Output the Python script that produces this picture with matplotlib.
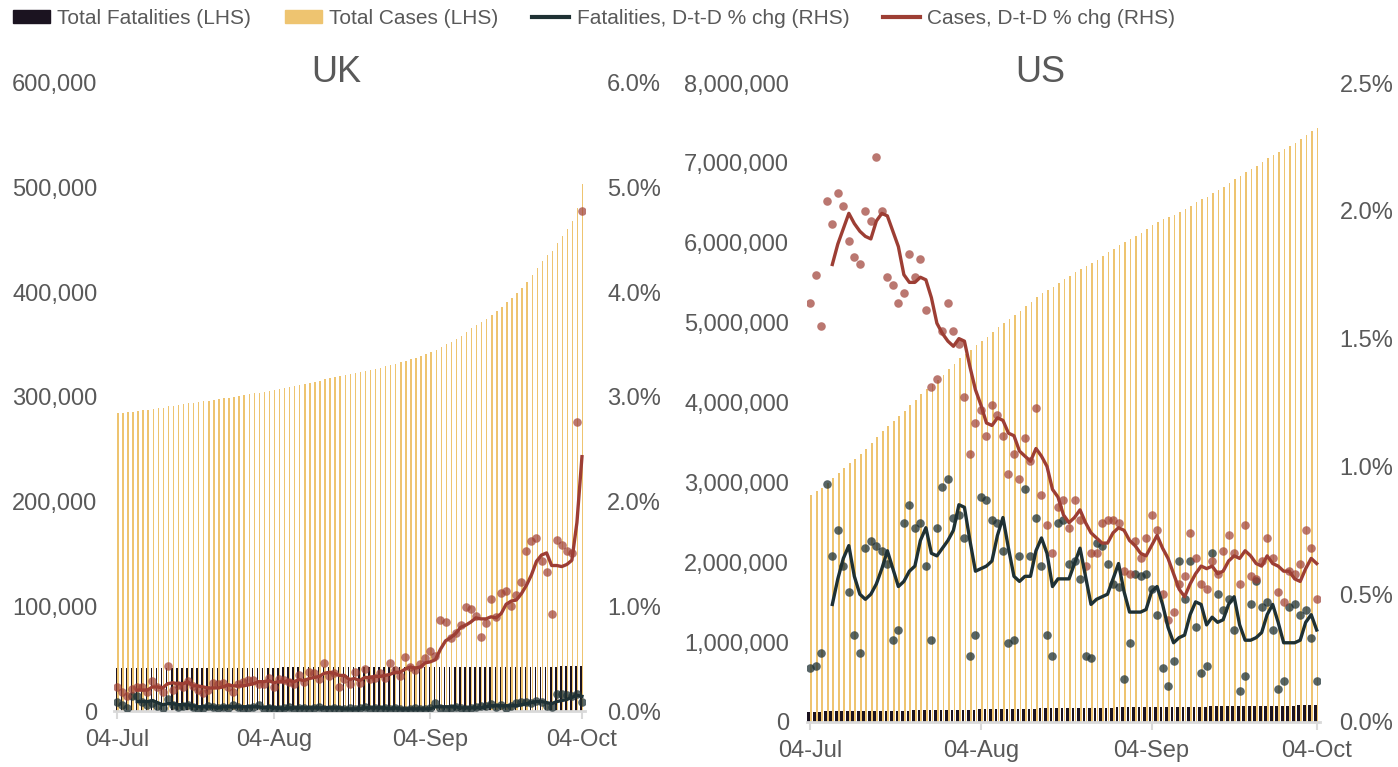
import numpy as np
import pandas as pd
import matplotlib
matplotlib.use("Agg")
import matplotlib.pyplot as plt
import matplotlib.dates as mdates
from matplotlib.ticker import FuncFormatter
from matplotlib.patches import Patch
from matplotlib.lines import Line2D

plt.rcParams['font.family'] = ['Liberation Sans', 'DejaVu Sans']

# ---- data (daily, 04-Jul-2020 .. 04-Oct-2020) ----
dates = pd.date_range("2020-07-04", "2020-10-04", freq="D")
tick_dates = pd.to_datetime(["2020-07-04", "2020-08-04", "2020-09-04", "2020-10-04"])
tick_labels = ["04-Jul", "04-Aug", "04-Sep", "04-Oct"]
nan = np.nan

# UK totals, thousands
uk_total_cases = [
    284.6, 285.1, 285.5, 286.1, 286.8, 287.4, 287.9, 288.8, 289.4, 289.9,
    291.2, 291.8, 292.5, 293.2, 294.0, 294.7, 295.3, 295.8, 296.4, 297.2,
    298.0, 298.8, 299.5, 300.0, 300.8, 301.6, 302.5, 303.4, 304.2, 305.0,
    306.0, 306.7, 307.6, 308.6, 309.4, 310.2, 311.3, 312.1, 313.3, 314.4,
    315.4, 316.8, 317.9, 319.0, 319.7, 320.7, 321.6, 322.7, 323.6, 324.9,
    325.9, 327.0, 328.1, 329.2, 330.7, 332.0, 333.1, 334.8, 336.2, 337.5,
    339.0, 340.8, 342.7, 344.5, 347.5, 350.5, 352.9, 355.6, 358.5, 362.0,
    365.5, 368.9, 371.5, 374.6, 378.6, 382.0, 386.4, 390.8, 394.7, 399.1,
    404.0, 410.2, 416.9, 423.7, 429.8, 435.5, 439.6, 446.7, 453.8, 460.8,
    467.7, 480.6, 503.6]
uk_total_deaths = [
    40.90, 40.92, 40.94, 40.99, 41.05, 41.09, 41.11, 41.15, 41.17, 41.18,
    41.22, 41.25, 41.26, 41.28, 41.31, 41.32, 41.33, 41.34, 41.36, 41.38,
    41.39, 41.41, 41.42, 41.45, 41.46, 41.47, 41.48, 41.50, 41.52, 41.53,
    41.54, 41.55, 41.56, 41.57, 41.59, 41.60, 41.61, 41.62, 41.63, 41.64,
    41.66, 41.67, 41.68, 41.69, 41.70, 41.71, 41.72, 41.73, 41.74, 41.76,
    41.77, 41.78, 41.79, 41.80, 41.81, 41.82, 41.83, 41.83, 41.84, 41.85,
    41.86, 41.87, 41.88, 41.91, 41.92, 41.93, 41.94, 41.96, 41.97, 41.98,
    41.99, 42.01, 42.03, 42.05, 42.08, 42.10, 42.12, 42.14, 42.16, 42.19,
    42.23, 42.27, 42.30, 42.34, 42.38, 42.40, 42.42, 42.49, 42.56, 42.62,
    42.68, 42.75, 42.79]
# UK day-to-day % changes (dots) and their smoothed line
uk_case_pct = [
    0.23, 0.18, 0.14, 0.21, 0.23, 0.23, 0.18, 0.29, 0.23, 0.18,
    0.43, 0.20, 0.25, 0.23, 0.29, 0.24, 0.20, 0.17, 0.20, 0.27,
    0.26, 0.27, 0.23, 0.18, 0.26, 0.28, 0.30, 0.30, 0.26, 0.26,
    0.32, 0.23, 0.31, 0.30, 0.28, 0.26, 0.34, 0.28, 0.37, 0.36,
    0.31, 0.46, 0.33, 0.36, 0.23, 0.31, 0.26, 0.37, 0.27, 0.40,
    0.31, 0.32, 0.36, 0.32, 0.46, 0.39, 0.33, 0.52, 0.42, 0.39,
    0.45, 0.51, 0.57, 0.53, 0.87, 0.85, 0.70, 0.75, 0.82, 0.99,
    0.97, 0.91, 0.71, 0.84, 1.07, 0.90, 1.13, 1.15, 1.00, 1.11,
    1.23, 1.53, 1.62, 1.65, 1.43, 1.33, 0.93, 1.63, 1.59, 1.53,
    1.51, 2.76, 4.78]
uk_case_line = [
    nan, nan, nan, nan, 0.20, 0.20, 0.20, 0.23, 0.23, 0.22,
    0.26, 0.27, 0.26, 0.26, 0.28, 0.24, 0.24, 0.23, 0.22, 0.22,
    0.22, 0.23, 0.25, 0.24, 0.24, 0.24, 0.25, 0.26, 0.28, 0.28,
    0.29, 0.27, 0.28, 0.28, 0.29, 0.28, 0.30, 0.29, 0.31, 0.32,
    0.33, 0.36, 0.37, 0.36, 0.34, 0.34, 0.30, 0.31, 0.29, 0.32,
    0.32, 0.33, 0.33, 0.34, 0.35, 0.37, 0.37, 0.40, 0.42, 0.41,
    0.42, 0.46, 0.47, 0.49, 0.59, 0.67, 0.70, 0.74, 0.80, 0.82,
    0.85, 0.89, 0.88, 0.88, 0.90, 0.89, 0.93, 1.02, 1.05, 1.06,
    1.12, 1.20, 1.30, 1.43, 1.49, 1.51, 1.39, 1.39, 1.38, 1.40,
    1.44, 1.80, 2.43]
uk_fat_pct = [
    0.09, 0.06, 0.03, 0.14, 0.14, 0.09, 0.06, 0.08, 0.05, 0.03,
    0.11, 0.06, 0.04, 0.05, 0.06, 0.04, 0.02, 0.03, 0.05, 0.04,
    0.03, 0.04, 0.03, 0.06, 0.04, 0.02, 0.03, 0.04, 0.06, 0.02,
    0.03, 0.02, 0.02, 0.03, 0.04, 0.02, 0.03, 0.03, 0.02, 0.03,
    0.04, 0.02, 0.02, 0.03, 0.02, 0.02, 0.03, 0.02, 0.03, 0.04,
    0.02, 0.03, 0.02, 0.03, 0.02, 0.03, 0.02, 0.01, 0.02, 0.03,
    0.02, 0.02, 0.03, 0.08, 0.03, 0.02, 0.03, 0.04, 0.03, 0.02,
    0.03, 0.04, 0.05, 0.05, 0.07, 0.04, 0.06, 0.03, 0.05, 0.08,
    0.09, 0.09, 0.08, 0.10, 0.09, 0.05, 0.04, 0.16, 0.16, 0.15,
    0.14, 0.16, 0.09]
uk_fat_line = [
    nan, nan, nan, nan, 0.09, 0.09, 0.09, 0.10, 0.08, 0.06,
    0.07, 0.07, 0.06, 0.06, 0.06, 0.05, 0.04, 0.04, 0.04, 0.04,
    0.03, 0.04, 0.04, 0.04, 0.04, 0.04, 0.04, 0.04, 0.04, 0.03,
    0.04, 0.03, 0.03, 0.02, 0.03, 0.03, 0.03, 0.03, 0.03, 0.03,
    0.03, 0.03, 0.03, 0.03, 0.03, 0.02, 0.02, 0.02, 0.02, 0.03,
    0.03, 0.03, 0.03, 0.03, 0.02, 0.03, 0.02, 0.02, 0.02, 0.02,
    0.02, 0.02, 0.02, 0.04, 0.04, 0.04, 0.04, 0.04, 0.03, 0.03,
    0.03, 0.03, 0.03, 0.04, 0.05, 0.05, 0.05, 0.05, 0.05, 0.05,
    0.06, 0.07, 0.08, 0.09, 0.09, 0.08, 0.07, 0.09, 0.10, 0.11,
    0.13, 0.15, 0.14]

# US totals, thousands
us_total_cases = [
    2840.0, 2889.7, 2934.5, 2994.4, 3052.8, 3116.0, 3178.9, 3238.7, 3297.6, 3356.6,
    3423.7, 3490.8, 3567.9, 3639.3, 3702.6, 3765.9, 3827.7, 3892.0, 3963.2, 4032.2,
    4105.2, 4171.3, 4225.9, 4282.5, 4348.0, 4419.3, 4486.9, 4553.3, 4611.1, 4659.5,
    4714.0, 4771.5, 4824.9, 4884.7, 4943.3, 4998.7, 5047.2, 5100.2, 5148.7, 5205.9,
    5259.0, 5323.7, 5371.1, 5412.5, 5448.2, 5494.0, 5541.8, 5583.9, 5632.5, 5677.0,
    5711.6, 5749.3, 5787.2, 5832.3, 5878.4, 5924.8, 5971.0, 6006.2, 6041.0, 6083.9,
    6122.8, 6166.9, 6216.9, 6263.5, 6294.8, 6320.0, 6347.2, 6381.5, 6417.9, 6465.4,
    6506.8, 6541.9, 6575.9, 6617.3, 6655.7, 6700.3, 6749.2, 6793.7, 6830.4, 6883.0,
    6922.2, 6961.0, 7004.9, 7055.3, 7100.5, 7136.7, 7170.2, 7212.5, 7254.3, 7299.3,
    7354.0, 7404.0, 7439.5]
us_total_deaths = [
    129.9, 130.2, 130.5, 131.7, 132.6, 133.6, 134.4, 135.1, 135.5, 135.9,
    136.8, 137.8, 138.7, 139.7, 140.5, 141.0, 141.5, 142.6, 143.8, 144.9,
    146.0, 146.9, 147.4, 148.5, 149.9, 151.3, 152.5, 153.7, 154.8, 155.2,
    155.8, 157.1, 158.5, 159.8, 161.0, 162.1, 162.6, 163.1, 164.2, 165.7,
    166.7, 168.1, 169.1, 169.7, 170.1, 171.4, 172.8, 173.8, 174.9, 175.9,
    176.4, 176.8, 178.0, 179.3, 180.4, 181.3, 182.3, 182.6, 183.2, 184.2,
    185.3, 186.4, 187.3, 188.1, 188.5, 188.8, 189.2, 190.4, 191.3, 192.5,
    193.2, 193.6, 194.0, 195.3, 196.3, 197.1, 198.1, 198.8, 199.0, 199.4,
    200.3, 201.4, 202.3, 203.3, 204.0, 204.3, 204.6, 205.5, 206.5, 207.3,
    208.2, 208.9, 209.3]
us_case_pct = [
    1.64, 1.75, 1.55, 2.04, 1.95, 2.07, 2.02, 1.88, 1.82, 1.79,
    2.00, 1.96, 2.21, 2.00, 1.74, 1.71, 1.64, 1.68, 1.83, 1.74,
    1.81, 1.61, 1.31, 1.34, 1.53, 1.64, 1.53, 1.48, 1.27, 1.05,
    1.17, 1.22, 1.12, 1.24, 1.20, 1.12, 0.97, 1.05, 0.95, 1.11,
    1.02, 1.23, 0.89, 0.77, 0.66, 0.84, 0.87, 0.76, 0.87, 0.79,
    0.61, 0.66, 0.66, 0.78, 0.79, 0.79, 0.78, 0.59, 0.58, 0.71,
    0.64, 0.72, 0.81, 0.75, 0.50, 0.40, 0.43, 0.54, 0.57, 0.74,
    0.64, 0.54, 0.52, 0.63, 0.58, 0.67, 0.73, 0.66, 0.54, 0.77,
    0.57, 0.56, 0.63, 0.72, 0.64, 0.51, 0.47, 0.59, 0.58, 0.62,
    0.75, 0.68, 0.48]
us_case_line = [
    nan, nan, nan, nan, 1.79, 1.87, 1.93, 1.99, 1.95, 1.92,
    1.90, 1.89, 1.96, 1.99, 1.98, 1.92, 1.86, 1.75, 1.72, 1.72,
    1.74, 1.73, 1.66, 1.56, 1.52, 1.49, 1.47, 1.50, 1.49, 1.39,
    1.30, 1.24, 1.17, 1.16, 1.19, 1.18, 1.13, 1.12, 1.06, 1.04,
    1.02, 1.07, 1.04, 1.00, 0.91, 0.88, 0.81, 0.78, 0.80, 0.83,
    0.78, 0.74, 0.72, 0.70, 0.70, 0.74, 0.76, 0.75, 0.71, 0.69,
    0.66, 0.65, 0.69, 0.73, 0.68, 0.64, 0.58, 0.52, 0.49, 0.54,
    0.58, 0.61, 0.60, 0.61, 0.58, 0.59, 0.63, 0.65, 0.64, 0.67,
    0.65, 0.62, 0.61, 0.65, 0.62, 0.61, 0.59, 0.59, 0.56, 0.55,
    0.60, 0.64, 0.62]
us_fat_pct = [
    0.21, 0.22, 0.27, 0.93, 0.65, 0.75, 0.61, 0.51, 0.34, 0.27,
    0.68, 0.71, 0.69, 0.67, 0.62, 0.32, 0.36, 0.78, 0.85, 0.76,
    0.78, 0.61, 0.32, 0.76, 0.92, 0.95, 0.80, 0.81, 0.72, 0.26,
    0.34, 0.88, 0.87, 0.79, 0.78, 0.67, 0.31, 0.32, 0.65, 0.91,
    0.65, 0.80, 0.61, 0.34, 0.26, 0.78, 0.79, 0.62, 0.63, 0.56,
    0.26, 0.25, 0.70, 0.69, 0.62, 0.54, 0.53, 0.17, 0.31, 0.58,
    0.57, 0.58, 0.52, 0.42, 0.21, 0.14, 0.24, 0.63, 0.48, 0.63,
    0.37, 0.19, 0.22, 0.66, 0.50, 0.44, 0.48, 0.36, 0.12, 0.18,
    0.46, 0.55, 0.45, 0.47, 0.36, 0.13, 0.16, 0.45, 0.46, 0.42,
    0.44, 0.33, 0.16]
us_fat_line = [
    nan, nan, nan, nan, 0.46, 0.56, 0.64, 0.69, 0.57, 0.50,
    0.48, 0.50, 0.54, 0.60, 0.67, 0.60, 0.53, 0.55, 0.59, 0.61,
    0.71, 0.76, 0.66, 0.65, 0.68, 0.71, 0.75, 0.85, 0.84, 0.71,
    0.59, 0.60, 0.61, 0.63, 0.73, 0.80, 0.68, 0.57, 0.55, 0.57,
    0.57, 0.67, 0.72, 0.66, 0.53, 0.56, 0.56, 0.56, 0.62, 0.68,
    0.57, 0.46, 0.48, 0.49, 0.50, 0.56, 0.62, 0.51, 0.43, 0.43,
    0.43, 0.44, 0.51, 0.53, 0.46, 0.37, 0.31, 0.33, 0.34, 0.42,
    0.47, 0.46, 0.38, 0.41, 0.39, 0.40, 0.46, 0.49, 0.38, 0.32,
    0.32, 0.33, 0.35, 0.42, 0.46, 0.39, 0.31, 0.31, 0.31, 0.32,
    0.39, 0.42, 0.36]

# ---- style ----
YELLOW = "#EEC470"
BARBLACK = "#1B1320"
DARK = "#1F3134"
RED = "#9D3E34"
GREY = "#595959"
AXISGREY = "#D9D9D9"
FS = 17


def draw_panel(ax, tot_cases, tot_deaths, case_pct, case_line, fat_pct, fat_line,
               lhs_max, lhs_step, rhs_max, rhs_step, bar_w, lpad, rpad):
    x = mdates.date2num(dates)
    ax.bar(x - bar_w[0] / 2 - 0.02, np.array(tot_deaths) * 1000, width=bar_w[0],
           color=BARBLACK, zorder=2)
    ax.bar(x + bar_w[1] / 2 + 0.02, np.array(tot_cases) * 1000, width=bar_w[1],
           color=YELLOW, zorder=2)
    ax.set_xlim(x[0] - 0.6, x[-1] + 0.6)
    ax.set_ylim(0, lhs_max)
    ax.set_yticks(np.arange(0, lhs_max + 1, lhs_step))
    ax.yaxis.set_major_formatter(FuncFormatter(lambda v, p: f"{v:,.0f}"))
    ax.set_xticks(mdates.date2num(tick_dates))
    ax.set_xticklabels(tick_labels)
    ax.tick_params(axis='y', length=0, pad=lpad, labelsize=FS, labelcolor=GREY)
    ax.tick_params(axis='x', length=6, width=1.5, color=AXISGREY, pad=7,
                   labelsize=FS, labelcolor=GREY)
    for s in ['top', 'right', 'left']:
        ax.spines[s].set_visible(False)
    ax.spines['bottom'].set_color(AXISGREY)
    ax.spines['bottom'].set_linewidth(2)

    ax2 = ax.twinx()
    ax2.scatter(x, fat_pct, s=38, color=DARK, alpha=0.75, linewidths=0, zorder=3)
    ax2.scatter(x, case_pct, s=38, color=RED, alpha=0.7, linewidths=0, zorder=3)
    ax2.plot(x, fat_line, color=DARK, lw=2.4, zorder=4)
    ax2.plot(x, case_line, color=RED, lw=2.4, zorder=4)
    ax2.set_ylim(0, rhs_max)
    ax2.set_yticks(np.arange(0, rhs_max + 1e-9, rhs_step))
    ax2.yaxis.set_major_formatter(FuncFormatter(lambda v, p: f"{v:.1f}%"))
    ax2.tick_params(axis='y', length=0, pad=rpad, labelsize=FS, labelcolor=GREY)
    for s in ax2.spines.values():
        s.set_visible(False)
    return ax2


fig = plt.figure(figsize=(13.98, 7.67), dpi=100)
W, H = 1398, 767

ax_uk = fig.add_axes([114 / W, (H - 711) / H, (585 - 114) / W, (711 - 83) / H])
draw_panel(ax_uk, uk_total_cases, uk_total_deaths, uk_case_pct, uk_case_line,
           uk_fat_pct, uk_fat_line, 600000, 100000, 6.0, 1.0, (0.28, 0.28), 12, 16)

ax_us = fig.add_axes([807 / W, (H - 722) / H, (1320 - 807) / W, (722 - 83) / H])
draw_panel(ax_us, us_total_cases, us_total_deaths, us_case_pct, us_case_line,
           us_fat_pct, us_fat_line, 8000000, 1000000, 2.5, 0.5, (0.5, 0.3), 13, 14)

fig.text(336 / W, 1 - 73 / H, "UK", fontsize=26, color=GREY, ha='center', va='center')
fig.text(1040 / W, 1 - 73 / H, "US", fontsize=26, color=GREY, ha='center', va='center')

handles = [Patch(color=BARBLACK), Patch(color=YELLOW),
           Line2D([], [], color=DARK, lw=3), Line2D([], [], color=RED, lw=3)]
labels = ["Total Fatalities (LHS)", "Total Cases (LHS)",
          "Fatalities, D-t-D % chg (RHS)", "Cases, D-t-D % chg (RHS)"]
fig.legend(handles, labels, loc='upper left', bbox_to_anchor=(0.0, 1.005), ncol=4,
           frameon=False, fontsize=15, labelcolor=GREY, handlelength=1.8,
           handleheight=0.6, handletextpad=0.35, columnspacing=1.6, borderaxespad=0.2)

fig.savefig("out.png", dpi=100)
